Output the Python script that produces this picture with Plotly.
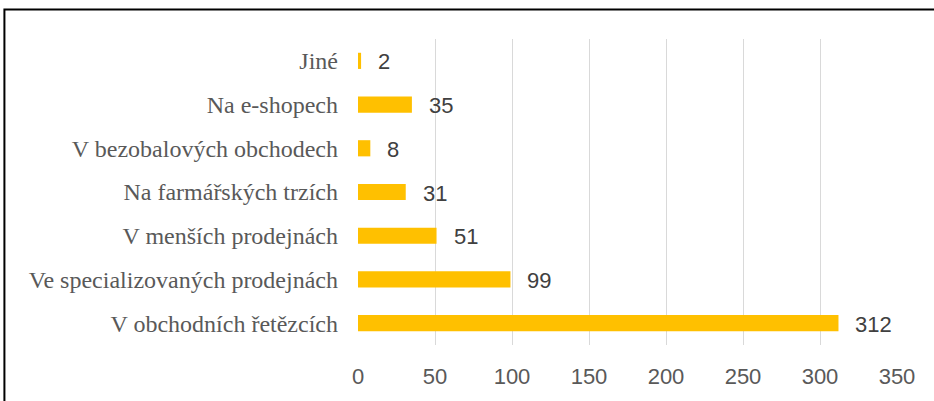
import plotly.graph_objects as go

# Data (bottom to top)
categories = [
    "V obchodních řetězcích",
    "Ve specializovaných prodejnách",
    "V menších prodejnách",
    "Na farmářských trzích",
    "V bezobalových obchodech",
    "Na e-shopech",
    "Jiné",
]
counts = [312, 99, 51, 31, 8, 35, 2]
tick_vals = [0, 50, 100, 150, 200, 250, 300, 350]

fig = go.Figure()
fig.add_trace(go.Bar(
    y=categories, x=counts, orientation="h",
    marker=dict(color="#FFC000", line=dict(width=0)),
    hoverinfo="x+y",
))

# Data labels to the right of each bar
for cat, val in zip(categories, counts):
    fig.add_annotation(
        x=val, y=cat, text=str(val), showarrow=False,
        xanchor="left", xshift=15, yshift=-1,
        font=dict(family="Liberation Sans, Arial", size=22, color="#404040"),
    )

# Outer chart border
fig.add_shape(
    type="rect", xref="paper", yref="paper",
    x0=-0.656, x1=1.1, y0=-0.25, y1=1.0964,
    line=dict(color="#000000", width=2), fillcolor="rgba(0,0,0,0)",
)

fig.update_layout(
    width=934, height=401,
    margin=dict(l=358, r=37, t=39, b=56),
    paper_bgcolor="white", plot_bgcolor="white",
    bargap=0.63,
    showlegend=False,
)
fig.update_xaxes(
    range=[0, 350], tickvals=tick_vals,
    showgrid=True, gridcolor="#D9D9D9", gridwidth=1,
    zeroline=False, showline=False, ticks="",
    tickfont=dict(family="Liberation Sans, Arial", size=22, color="#595959"),
    ticklabelstandoff=16,
)
fig.update_yaxes(
    showgrid=False, zeroline=False, showline=False, ticks="",
    tickfont=dict(family="Liberation Serif, Times New Roman", size=24, color="#595959"),
    ticklabelstandoff=19,
)

# drop the default page margin so the figure sits at the window's corner
fig.write_html("out.html", config={"displayModeBar": False},
               post_script="document.body.style.margin='0';")
